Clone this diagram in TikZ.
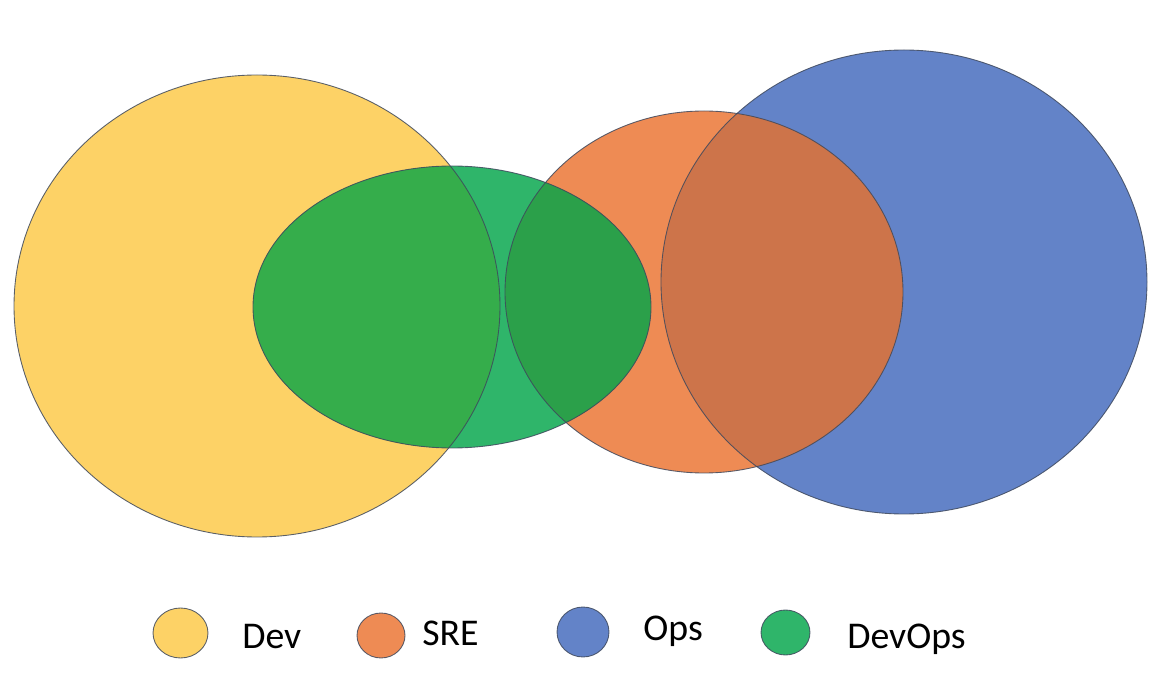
\documentclass[tikz,border=0pt]{standalone}
\usepackage{xcolor}
\usepackage{fontspec}
\setmainfont{Carlito}
\usetikzlibrary{positioning}
\usetikzlibrary{shapes.geometric}
\definecolor{devcol}{RGB}{253,210,102}
\definecolor{srecol}{RGB}{238,139,84}
\definecolor{opscol}{RGB}{99,131,200}
\definecolor{devopscol}{RGB}{47,181,106}
\definecolor{devxdevops}{RGB}{53,173,75}
\definecolor{srexdevops}{RGB}{43,160,74}
\definecolor{srexops}{RGB}{205,116,74}
\definecolor{rimcol}{RGB}{62,72,92}

\begin{document}
\begin{tikzpicture}[x=0.02cm,y=-0.02cm,
			rim/.style={draw=rimcol,line width=0.5pt,draw opacity=0.85},
			key/.style={ellipse,rim,inner sep=0pt},
			keytext/.style={anchor=base west,inner sep=0pt,font=\fontsize{21.5}{24}\selectfont}]
		\useasboundingbox (0,0) rectangle (1161,689);
		\def\devpath{(257,306) ellipse [x radius=243, y radius=231]}
		\def\opspath{(904,282) ellipse [x radius=243, y radius=232]}
		\def\srepath{(704,292) ellipse [x radius=199, y radius=181]}
		\def\devopspath{(452,307) ellipse [x radius=199, y radius=141]}
		\fill[opscol] \opspath;
		\fill[devcol] \devpath;
		\fill[srecol] \srepath;
		\begin{scope}
			\clip \srepath;
			\fill[srexops] \opspath;
		\end{scope}
		\fill[devopscol] \devopspath;
		\begin{scope}
			\clip \devopspath;
			\fill[devxdevops] \devpath;
			\fill[srexdevops] \srepath;
		\end{scope}
		\draw[rim] \opspath;
		\draw[rim] \devpath;
		\draw[rim] \srepath;
		\draw[rim] \devopspath;
		\node[key,fill=devcol,minimum width=1.10cm,minimum height=1.0cm] (devkey) at (180.5,633) {};
		\node[key,fill=srecol,minimum width=0.96cm,minimum height=0.90cm] (srekey) at (381,635.5) {};
		\node[key,fill=opscol,minimum width=1.04cm,minimum height=1.0cm] (opskey) at (583,632) {};
		\node[key,fill=devopscol,minimum width=0.98cm,minimum height=0.90cm] (devopskey) at (785.5,632.5) {};
		\node[keytext] (devtext) at (242,648) {Dev};
		\node[keytext] (sretext) at (422,645) {SRE};
		\node[keytext] (opstext) at (643,641) {Ops};
		\node[keytext] (devopstext) at (847,648) {DevOps};
\end{tikzpicture}
\end{document}
